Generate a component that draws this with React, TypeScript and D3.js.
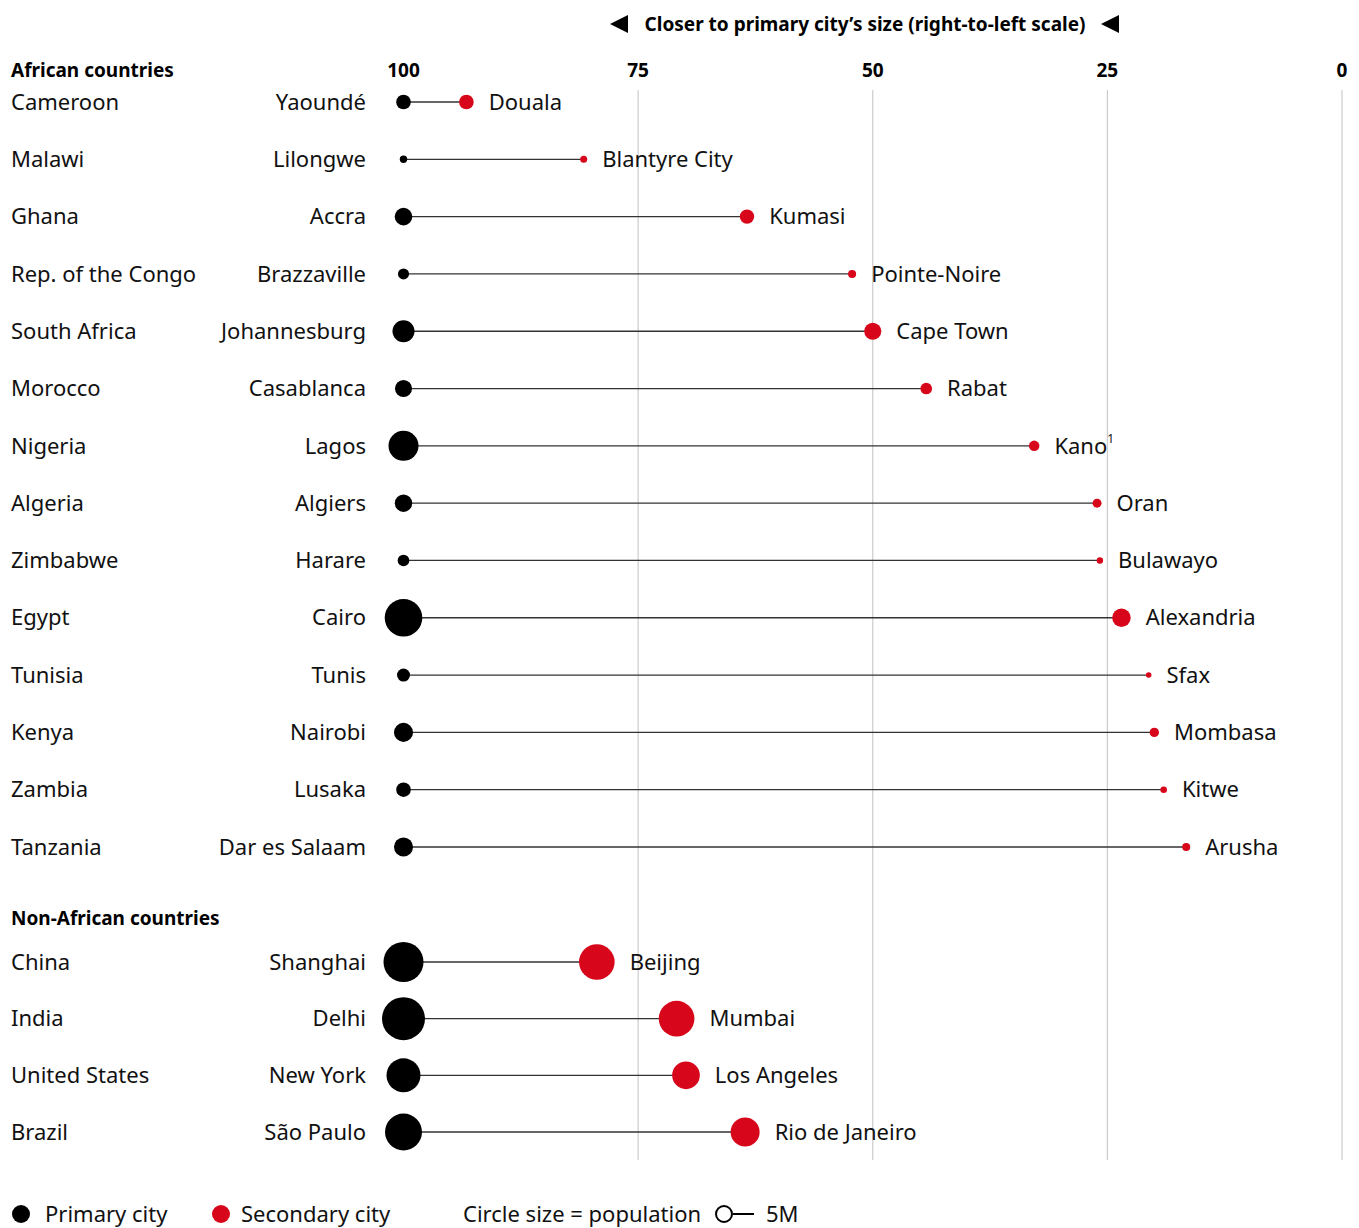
import React from 'react';
import * as d3 from 'd3';

// African pairs: primary city (value 100) vs secondary city size as % of primary
const africaCountries = ['Cameroon', 'Malawi', 'Ghana', 'Rep. of the Congo', 'South Africa', 'Morocco', 'Nigeria', 'Algeria', 'Zimbabwe', 'Egypt', 'Tunisia', 'Kenya', 'Zambia', 'Tanzania'];
const africaPrimary = ['Yaoundé', 'Lilongwe', 'Accra', 'Brazzaville', 'Johannesburg', 'Casablanca', 'Lagos', 'Algiers', 'Harare', 'Cairo', 'Tunis', 'Nairobi', 'Lusaka', 'Dar es Salaam'];
const africaSecondary = ['Douala', 'Blantyre City', 'Kumasi', 'Pointe-Noire', 'Cape Town', 'Rabat', 'Kano', 'Oran', 'Bulawayo', 'Alexandria', 'Sfax', 'Mombasa', 'Kitwe', 'Arusha'];
const africaRatio = [93.3, 80.8, 63.4, 52.2, 50.0, 44.3, 32.8, 26.1, 25.8, 23.5, 20.6, 20.0, 19.0, 16.6];
const africaPrimaryPop = [3.3, 0.85, 4.8, 1.9, 7.5, 4.5, 13.9, 4.7, 2.1, 21.8, 2.6, 5.6, 3.3, 5.6];
const africaSecondaryPop = [3.3, 0.76, 3.2, 1.0, 4.5, 2.1, 1.7, 1.25, 0.63, 5.3, 0.48, 1.36, 0.67, 1.0];

const otherCountries = ['China', 'India', 'United States', 'Brazil'];
const otherPrimary = ['Shanghai', 'Delhi', 'New York', 'São Paulo'];
const otherSecondary = ['Beijing', 'Mumbai', 'Los Angeles', 'Rio de Janeiro'];
const otherRatio = [79.4, 70.9, 69.9, 63.6];
const otherPrimaryPop = [24.7, 28.5, 17.8, 21.1];
const otherSecondaryPop = [19.6, 19.6, 11.8, 13.0];

const ticks = [100, 75, 50, 25, 0];
const gridTicks = [75, 50, 25, 0];

const RED = '#d7061a';
const FONT = '"Noto Sans", "Open Sans", sans-serif';
const FS = 22;

const x = d3.scaleLinear().domain([100, 0]).range([403.5, 1342]);
const r = d3.scaleSqrt().domain([0, 5]).range([0, 9]);
const yAfrica = d3.scalePoint<string>().domain(africaCountries).range([102, 847]);
const yOther = d3.scalePoint<string>().domain(otherCountries).range([962, 1132]);

type Row = { country: string; primary: string; secondary: string; ratio: number; pp: number; sp: number; y: number };

const africaRows: Row[] = africaCountries.map((c, i) => ({
  country: c, primary: africaPrimary[i], secondary: africaSecondary[i], ratio: africaRatio[i],
  pp: africaPrimaryPop[i], sp: africaSecondaryPop[i], y: yAfrica(c) as number,
}));
const otherRows: Row[] = otherCountries.map((c, i) => ({
  country: c, primary: otherPrimary[i], secondary: otherSecondary[i], ratio: otherRatio[i],
  pp: otherPrimaryPop[i], sp: otherSecondaryPop[i], y: yOther(c) as number,
}));

function RowMarks({ d }: { d: Row }) {
  const x0 = x(100);
  const x1 = x(d.ratio);
  const rs = r(d.sp);
  return (
    <g>
      <text x={11} y={d.y} dy="0.35em" fontSize={FS} fill="#111">{d.country}</text>
      <text x={366} y={d.y} dy="0.35em" fontSize={FS} fill="#111" textAnchor="end">{d.primary}</text>
      <line x1={x0} x2={x1} y1={d.y} y2={d.y} stroke="#333" strokeWidth={1.3} />
      <circle cx={x0} cy={d.y} r={r(d.pp)} fill="#000" />
      <circle cx={x1} cy={d.y} r={rs} fill={RED} />
      <text x={x1 + rs + 15} y={d.y} dy="0.35em" fontSize={FS} fill="#111">
        {d.secondary}
        {d.secondary === 'Kano' ? <tspan fontSize={12} dy="-0.9em">1</tspan> : null}
      </text>
    </g>
  );
}

export default function App() {
  const tri = (cx: number) => `M${cx - 9},24 L${cx + 9},15 L${cx + 9},33 Z`;
  return (
    <svg width={1359} height={1228} style={{ position: 'absolute', left: 0, top: 0, fontFamily: FONT }}>
      <rect width={1359} height={1228} fill="#fff" />
      {/* title */}
      <path d={tri(619)} fill="#000" />
      <path d={tri(1110)} fill="#000" />
      <text x={865} y={24} dy="0.35em" fontSize={19} fontWeight="bold" textAnchor="middle" fill="#000">
        Closer to primary city’s size (right-to-left scale)
      </text>
      {/* grid */}
      {gridTicks.map(t => (
        <line key={t} x1={x(t)} x2={x(t)} y1={90} y2={1160} stroke="#ccc" strokeWidth={1.2} />
      ))}
      {ticks.map(t => (
        <text key={t} x={x(t)} y={70} dy="0.35em" fontSize={19} fontWeight="bold" textAnchor="middle" fill="#000">{t}</text>
      ))}
      <text x={11} y={70} dy="0.35em" fontSize={19} fontWeight="bold" fill="#000">African countries</text>
      <text x={11} y={918} dy="0.35em" fontSize={19} fontWeight="bold" fill="#000">Non-African countries</text>
      {africaRows.map(d => <RowMarks key={d.country} d={d} />)}
      {otherRows.map(d => <RowMarks key={d.country} d={d} />)}
      {/* legend */}
      <g fontSize={FS} fill="#111">
        <circle cx={21} cy={1214} r={9} fill="#000" />
        <text x={45} y={1214} dy="0.35em">Primary city</text>
        <circle cx={221} cy={1214} r={9} fill={RED} />
        <text x={241} y={1214} dy="0.35em">Secondary city</text>
        <text x={463} y={1214} dy="0.35em">Circle size = population</text>
        <line x1={733} x2={754} y1={1214} y2={1214} stroke="#000" strokeWidth={2} />
        <circle cx={724} cy={1214} r={r(5) - 1} fill="#fff" stroke="#000" strokeWidth={2} />
        <text x={766} y={1214} dy="0.35em">5M</text>
      </g>
    </svg>
  );
}
